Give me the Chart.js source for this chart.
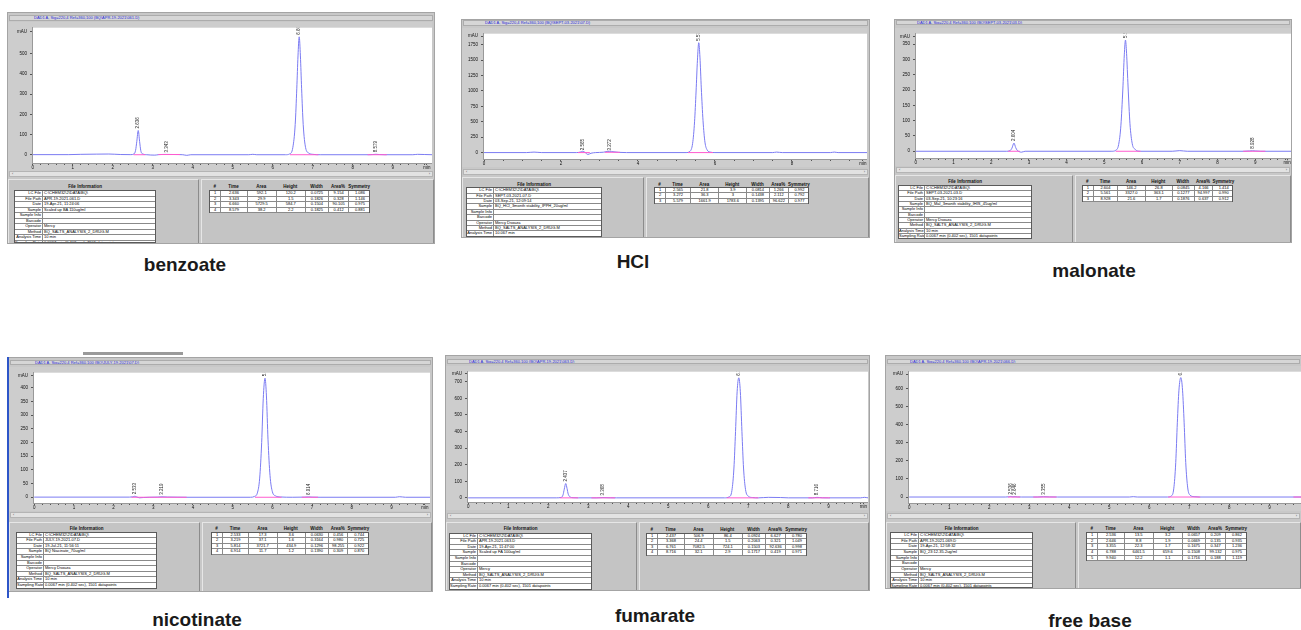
<!DOCTYPE html>
<html>
<head>
<meta charset="utf-8">
<script src="https://cdn.jsdelivr.net/npm/chart.js@4.4.1/dist/chart.umd.min.js"></script>
<style>
html,body{margin:0;padding:0;background:#fff;width:1301px;height:630px;overflow:hidden;font-family:"Liberation Sans",Arial,sans-serif}
div,canvas{position:absolute;box-sizing:border-box}
.frame{background:#c8c8c8;border:1px solid #a4a4a4}
.strip{background:#d6d6d6;border:1px solid #acacac;color:#2a2ad6;font-size:4px;line-height:4px;white-space:nowrap;overflow:hidden}
.scroll{background:#e2e2e2;border:1px solid #b4b4b4;font-size:4px;line-height:4px;color:#555}
.pane{background:#c4c4c4;border-top:1px solid #e6e6e6;border-left:1px solid #e6e6e6;border-right:1px solid #8c8c8c}
.tbl{background:#fff;border:1px solid #5a5a5a}
.row{left:0;right:0;border-bottom:1px solid #8a8a8a;font-size:4px;white-space:nowrap;overflow:hidden}
.cell{top:0;bottom:0;border-right:1px solid #8a8a8a;overflow:hidden;text-align:center}
.hdr{font-size:4.5px;font-weight:bold;white-space:nowrap;text-align:center;color:#111}
.name{font-size:19px;font-weight:bold;color:#1a1a1a;white-space:nowrap;transform:translate(-50%,-50%)}
</style>
</head>
<body>
<script>
// shared labels
const infoLabels = ['LC File', 'File Path', 'Date', 'Sample', 'Sample Info', 'Barcode', 'Operator', 'Method', 'Analysis Time', 'Sampling Rate'];
const peakHeaders = ['#', 'Time', 'Area', 'Height', 'Width', 'Area%', 'Symmetry'];

// benzoate
const benzoateTrace = [[0,0.5],[0.9,0.5],[1.2,2],[1.6,3],[1.9,3.5],[2.2,1],[2.45,0.5],[2.53,4],[2.57,22],[2.60,66],[2.636,120.2],[2.67,66],[2.70,20],[2.75,4],[2.85,0],[3.05,-2],[3.15,0.5],[3.343,1.5],[3.55,1],[3.75,0],[3.85,-3],[3.95,0],[5.4,0],[5.5,2],[5.6,0],[6.32,0],[6.42,4],[6.50,35],[6.56,150],[6.60,330],[6.63,490],[6.66,584.7],[6.69,490],[6.72,330],[6.76,150],[6.82,35],[6.90,8],[7.0,2],[7.2,0],[8.4,0],[8.5,1],[8.579,2.2],[8.66,1],[8.8,0],[9.5,0],[9.62,2],[9.8,1],[10,0]];
const benzoateBase = [[2.52,2.81,0],[3.14,3.68,1],[6.43,7.14,0],[8.37,8.85,0]];
const benzoateTime = [2.636, 3.343, 6.660, 8.579];
const benzoateArea = [592.1, 29.9, 5729.5, 38.2];
const benzoateHeight = [120.2, 1.5, 584.7, 2.2];
const benzoateWidth = [0.0725, 0.1826, 0.1504, 0.1825];
const benzoatePct = [9.154, 0.328, 90.105, 0.412];
const benzoateSym = [1.086, 1.146, 0.975, 0.881];
const benzoateInfo = ['C:\\CHEM32\\2\\DATA\\BQ\\', 'APR-19-2021-061.D', '19-Apr-21, 11:24:06', 'Scaled up BA 110ug/ml', '', '', 'Mercy', 'BQ_SALTS_ANALYSIS_2_DRUG.M', '10 min', '0.0067 min (0.402 sec), 1501 datapoints'];

// HCl
const hclTrace = [[0,0],[1.1,0],[1.3,8],[1.5,0],[2.4,0],[2.50,8],[2.565,22],[2.62,5],[2.70,-30],[2.78,-10],[2.9,0],[3.1,6],[3.2,18],[3.272,22],[3.35,14],[3.5,4],[3.7,0],[5.25,0],[5.35,20],[5.42,150],[5.47,500],[5.51,1000],[5.545,1500],[5.579,1783.6],[5.61,1550],[5.645,1050],[5.69,520],[5.74,170],[5.80,40],[5.88,8],[6.0,0],[7.5,0],[7.6,8],[7.75,0],[9.0,0],[9.1,8],[9.2,0],[9.95,0]];
const hclBase = [[2.44,2.75,0],[3.14,3.53,5],[5.30,5.95,0]];
const hclTime = [2.565, 3.272, 5.579];
const hclArea = [21.8, 36.3, 1661.9];
const hclHeight = [3.9, 3.0, 1783.6];
const hclWidth = [0.0814, 0.1438, 0.1395];
const hclPct = [1.266, 2.112, 96.622];
const hclSym = [0.992, 0.792, 0.977];
const hclInfo = ['C:\\CHEM32\\2\\DATA\\BQ\\', 'SEPT-03-2021-07.D', '03-Sep-21, 12:09:14', 'BQ_HCl_3month stability_IPPH_20ug/ml', '', '', 'Mercy Dsouza', 'BQ_SALTS_ANALYSIS_2_DRUG.M', '10.067 min', '0.0067 min (0.402 sec), 1501 datapoints'];

// malonate
const malonateTrace = [[0,0],[2.40,0],[2.50,2],[2.55,10],[2.604,26.8],[2.65,12],[2.69,3],[2.74,-1],[2.80,-3],[2.9,0],[5.2,0],[5.30,3],[5.38,22],[5.44,85],[5.49,200],[5.53,315],[5.561,363.1],[5.59,320],[5.63,210],[5.68,90],[5.74,25],[5.82,6],[5.95,0],[6.8,0],[7.0,2],[7.2,0],[8.7,0],[8.85,1],[8.928,1.7],[9.0,1],[9.15,0],[9.95,0]];
const malonateBase = [[2.45,2.76,0],[5.30,5.96,0],[8.68,9.27,0]];
const malonateTime = [2.604, 5.561, 8.928];
const malonateArea = [146.2, 3327.0, 21.6];
const malonateHeight = [26.8, 363.1, 1.7];
const malonateWidth = [0.0845, 0.1277, 0.1876];
const malonatePct = [4.166, 94.997, 0.637];
const malonateSym = [1.414, 0.99, 0.912];
const malonateInfo = ['C:\\CHEM32\\2\\DATA\\BQ\\', 'SEPT-03-2021-03.D', '03-Sep-21, 10:23:16', 'BQ_Mal_3month stability_IHIS_45ug/ml', '', '', 'Mercy Dsouza', 'BQ_SALTS_ANALYSIS_2_DRUG.M', '10 min', '0.0067 min (0.402 sec), 1501 datapoints'];

// nicotinate
const nicotinateTrace = [[0,0.5],[2.40,0.5],[2.48,1.5],[2.533,3.6],[2.58,1.5],[2.65,-2],[2.75,-1],[2.9,0],[3.1,0.5],[3.219,1.6],[3.35,0.8],[3.6,0.3],[3.85,0],[5.45,0],[5.55,3],[5.62,15],[5.68,70],[5.73,200],[5.77,360],[5.814,434.9],[5.85,370],[5.89,210],[5.94,80],[6.00,20],[6.08,5],[6.2,1],[6.5,0],[6.8,0.5],[6.914,1.2],[7.0,0.5],[7.2,0],[9.1,0],[9.2,2],[9.35,0],[9.97,0]];
const nicotinateBase = [[2.45,2.83,0],[2.83,3.84,0],[5.56,6.23,0],[6.74,7.15,0]];
const nicotinateTime = [2.533, 3.219, 5.814, 6.914];
const nicotinateArea = [17.3, 37.1, 3721.7, 11.7];
const nicotinateHeight = [3.6, 1.6, 434.9, 1.2];
const nicotinateWidth = [0.063, 0.3164, 0.1296, 0.139];
const nicotinatePct = [0.456, 0.98, 98.255, 0.309];
const nicotinateSym = [0.744, 0.725, 0.922, 0.87];
const nicotinateInfo = ['C:\\CHEM32\\2\\DATA\\BQ\\', 'JULY-19-2021-07.D', '19-Jul-21, 11:56:11', 'BQ Niacinate_70ug/ml', '', '', 'Mercy Dsouza', 'BQ_SALTS_ANALYSIS_2_DRUG.M', '10 min', '0.0067 min (0.402 sec), 1501 datapoints'];

// fumarate
const fumarateTrace = [[0,0],[2.20,0],[2.33,3],[2.37,18],[2.40,52],[2.437,86.4],[2.47,56],[2.50,22],[2.55,5],[2.62,1],[2.75,0],[3.2,0],[3.368,1.5],[3.55,0.5],[3.7,0],[6.40,0],[6.52,6],[6.59,45],[6.64,180],[6.68,400],[6.72,640],[6.761,724.1],[6.80,640],[6.84,400],[6.88,180],[6.93,50],[7.0,10],[7.1,2],[7.25,0],[7.5,3],[7.8,2],[8.0,0],[8.6,0],[8.716,2.9],[8.85,0.5],[9.0,0],[9.8,0],[9.9,3],[9.99,0]];
const fumarateBase = [[2.29,2.75,0],[3.08,3.67,0],[6.46,7.25,0],[8.5,9.04,0]];
const fumarateTime = [2.437, 3.368, 6.761, 8.716];
const fumarateArea = [506.9, 24.4, 7082.5, 32.1];
const fumarateHeight = [86.4, 1.5, 724.1, 2.9];
const fumarateWidth = [0.0924, 0.2063, 0.1503, 0.1717];
const fumaratePct = [6.627, 0.321, 92.636, 0.419];
const fumarateSym = [0.78, 1.049, 0.998, 0.971];
const fumarateInfo = ['C:\\CHEM32\\2\\DATA\\BQ\\', 'APR-19-2021-063.D', '19-Apr-21, 11:47:00', 'Scaled up FA 100ug/ml', '', '', 'Mercy', 'BQ_SALTS_ANALYSIS_2_DRUG.M', '10 min', '0.0067 min (0.402 sec), 1501 datapoints'];

// free base
const freeTrace = [[0,0],[2.40,0],[2.48,1],[2.536,3.2],[2.59,1],[2.646,1.9],[2.70,0.5],[2.8,0],[3.2,0],[3.355,1.7],[3.5,0.5],[3.7,0],[5.5,0],[5.6,2],[5.7,0],[6.45,0],[6.55,6],[6.61,45],[6.66,190],[6.70,410],[6.74,590],[6.788,659.6],[6.83,590],[6.87,410],[6.91,190],[6.96,50],[7.02,10],[7.12,2],[7.25,0],[9.79,0]];
const freeBase = [[2.47,2.77,0],[3.1,3.68,0],[6.47,7.27,0],[9.6,9.79,0]];
const freeTime = [2.536, 2.646, 3.355, 6.788, 9.940];
const freeArea = [13.5, 8.8, 22.3, 6461.5, 12.2];
const freeHeight = [3.2, 1.9, 1.7, 659.6, 1.1];
const freeWidth = [0.0657, 0.0669, 0.1675, 0.1508, 0.1716];
const freePct = [0.209, 0.135, 0.347, 99.132, 0.188];
const freeSym = [0.862, 0.935, 1.236, 0.975, 1.119];
const freeInfo = ['C:\\CHEM32\\2\\DATA\\BQ\\', 'APR-19-2021-069.D', '19-Apr-21, 12:58:32', 'BQ_23:12-35.2ug/ml', '', '', 'Mercy', 'BQ_SALTS_ANALYSIS_2_DRUG.M', '10 min', '0.0067 min (0.402 sec), 1501 datapoints'];

// screenshot layout (pixels) for each panel
const panels = [
  { name:'benzoate', file:'061.D', dir:'APR-19-2021', trace:benzoateTrace, base:benzoateBase, time:benzoateTime, area:benzoateArea, height:benzoateHeight, width:benzoateWidth, pct:benzoatePct, sym:benzoateSym, info:benzoateInfo,
    frame:[7,12,435,244], strip:[15,21], plot:[32,22,432,163], scroll:[171,177], bottomTop:179, split:199,
    fileT:[14,156,187,190,5.5], peakT:[209,370,187,190,5.5], label:[185,265],
    x:{min:-0.02,max:9.98,label:1,minor:0.2,unit:9.85}, y:{min:-41,max:630,step:100,unit:612} },
  { name:'HCl', file:'07.D', dir:'SEPT-03-2021', trace:hclTrace, base:hclBase, time:hclTime, area:hclArea, height:hclHeight, width:hclWidth, pct:hclPct, sym:hclSym, info:hclInfo,
    frame:[461,19,870,238], strip:[20,26], plot:[483,28,867,159], scroll:[169,175], bottomTop:177, split:644,
    fileT:[466,602,184.5,187.3,5.4], peakT:[654,809,184.7,187,5.4], label:[633,262],
    x:{min:-0.026,max:9.95,label:2,minor:0.5,unit:9.84}, y:{min:-104,max:1930,step:250,unit:1890} },
  { name:'malonate', file:'03.D', dir:'SEPT-03-2021', trace:malonateTrace, base:malonateBase, time:malonateTime, area:malonateArea, height:malonateHeight, width:malonateWidth, pct:malonatePct, sym:malonateSym, info:malonateInfo,
    frame:[894,19,1292,243], strip:[20,25], plot:[915,28,1291,158], scroll:[167,173], bottomTop:175, split:1073,
    fileT:[898,1032,181.7,185,5.33], peakT:[1082,1233,181.7,185,5.33], label:[1094,271],
    x:{min:-0.02,max:9.95,label:1,minor:0.2,unit:9.85}, y:{min:-22,max:384,step:50,unit:374} },
  { name:'nicotinate', file:'07.D', dir:'JULY-19-2021', trace:nicotinateTrace, base:nicotinateBase, time:nicotinateTime, area:nicotinateArea, height:nicotinateHeight, width:nicotinateWidth, pct:nicotinatePct, sym:nicotinateSym, info:nicotinateInfo,
    frame:[8,357,433,592], strip:[360,365], plot:[33,367,430,503], scroll:[512,518], bottomTop:522, split:200,
    fileT:[16,157,529.3,531.7,5.6], peakT:[211,369,529.3,531.7,5.6], label:[197,620],
    x:{min:-0.03,max:9.97,label:1,minor:0.2,unit:9.84}, y:{min:-21,max:455,step:50,unit:444} },
  { name:'fumarate', file:'063.D', dir:'APR-19-2021', trace:fumarateTrace, base:fumarateBase, time:fumarateTime, area:fumarateArea, height:fumarateHeight, width:fumarateWidth, pct:fumaratePct, sym:fumarateSym, info:fumarateInfo,
    frame:[445,355,870,591], strip:[359,364], plot:[467,366,868,502], scroll:[513,519], bottomTop:522, split:637,
    fileT:[449,592,529.3,532.7,5.6], peakT:[646,807,530,532.7,5.6], label:[655,616],
    x:{min:-0.03,max:9.99,label:1,minor:0.2,unit:9.875}, y:{min:-25,max:761,step:100,unit:748} },
  { name:'free base', file:'066.D', dir:'APR-19-2021', trace:freeTrace, base:freeBase, time:freeTime, area:freeArea, height:freeHeight, width:freeWidth, pct:freePct, sym:freeSym, info:freeInfo,
    frame:[885,355,1302,589], strip:[359,364], plot:[908,366,1301,503], scroll:[513,519], bottomTop:522, split:1076,
    fileT:[890,1033,529.3,532,5.67], peakT:[1086,1247,529.3,532,5.67], label:[1090,621],
    x:{min:-0.03,max:9.79,label:1,minor:0.2,unit:null}, y:{min:-33,max:692,step:100,unit:679} }
];

const colFrac = [0.071, 0.162, 0.182, 0.180, 0.145, 0.124, 0.136];

Chart.defaults.font.family = '"Liberation Sans", Arial, sans-serif';

function box(cls, l, t, w, h, parent){
  const d = document.createElement('div');
  d.className = cls;
  Object.assign(d.style, { left: l+'px', top: t+'px', width: w+'px', height: h+'px' });
  (parent||document.body).appendChild(d);
  return d;
}

const bgPlugin = {
  id: 'bg',
  beforeDraw(c){
    const { ctx, chartArea: a } = c;
    ctx.save();
    ctx.fillStyle = '#cdcdcd'; ctx.fillRect(0, 0, c.width, c.height);
    ctx.fillStyle = '#fff'; ctx.fillRect(a.left, a.top, a.right-a.left, a.bottom-a.top);
    ctx.restore();
  }
};

const peakLabels = {
  id: 'peakLabels',
  afterDatasetsDraw(chart, args, opts){
    const { ctx, chartArea: a, scales: { x, y } } = chart;
    ctx.save();
    ctx.beginPath(); ctx.rect(a.left, a.top, a.right-a.left, a.bottom-a.top); ctx.clip();
    ctx.fillStyle = '#202020';
    ctx.font = '4.5px "Liberation Sans"';
    ctx.textAlign = 'left'; ctx.textBaseline = 'middle';
    opts.time.forEach((t, i) => {
      const px = x.getPixelForValue(t), py = y.getPixelForValue(opts.height[i]);
      ctx.save(); ctx.translate(px, py-2); ctx.rotate(-Math.PI/2);
      ctx.fillText(t.toFixed(3), 0, 0);
      ctx.restore();
    });
    ctx.restore();
  }
};

function drawPanel(P){
  const [fl, ft, fr, fb] = P.frame;
  const [pl, pt, pr, pb] = P.plot;
  box('frame', fl, ft, fr-fl, fb-ft);

  const st = box('strip', fl+2, P.strip[0], fr-fl-4, P.strip[1]-P.strip[0]);
  st.style.paddingLeft = (pl-fl-1)+'px';
  st.textContent = 'DAD1 A, Sig=220,4 Ref=360,100 (BQ\\' + P.dir + '\\' + P.file + ')';

  // chromatogram
  const cw = pr-(fl+1), ch = pb+8-pt;
  const cv = document.createElement('canvas');
  cv.width = cw; cv.height = ch;
  Object.assign(cv.style, { left:(fl+1)+'px', top:pt+'px', width:cw+'px', height:ch+'px' });
  document.body.appendChild(cv);

  const baseData = [];
  P.base.forEach(([a, b, v]) => baseData.push({x:a, y:v}, {x:b, y:v}, {x:b, y:null}));

  new Chart(cv, {
    type: 'line',
    data: { datasets: [
      { data: baseData, borderColor:'#ff5ccf', borderWidth:1, pointRadius:0, spanGaps:false, order:0 },
      { data: P.trace.map(([x, y]) => ({x, y})), borderColor:'#7b7bf2', borderWidth:1, pointRadius:0, cubicInterpolationMode:'monotone', order:1 }
    ]},
    options: {
      responsive:false, animation:false, devicePixelRatio:1,
      layout:{ padding:0 },
      plugins:{ legend:{display:false}, tooltip:{enabled:false}, peakLabels:{ time:P.time, height:P.height } },
      scales:{
        x:{ type:'linear', min:P.x.min, max:P.x.max,
          afterBuildTicks: ax => {
            const t = [];
            for (let i = 0; i*P.x.minor <= P.x.max+1e-9; i++) t.push({ value: +(i*P.x.minor).toFixed(3) });
            if (P.x.unit !== null) t.push({ value: P.x.unit });
            ax.ticks = t;
          },
          afterFit: ax => { ax.height = 8; },
          ticks:{ autoSkip:false, maxRotation:0, padding:0, color:'#111', font:{size:4.5},
            callback: v => {
              if (P.x.unit !== null && Math.abs(v-P.x.unit) < 1e-6) return 'min';
              const r = Math.round(v);
              return (Math.abs(v-r) < 1e-6 && r % P.x.label === 0) ? String(r) : '';
            } },
          grid:{ drawOnChartArea:false, tickLength:2, color:'#555' },
          border:{ color:'#999' } },
        y:{ type:'linear', min:P.y.min, max:P.y.max,
          afterBuildTicks: ax => {
            const t = [];
            for (let v = 0; v <= P.y.max && v < P.y.unit - P.y.step*0.3; v += P.y.step) t.push({ value:v });
            t.push({ value:P.y.unit });
            ax.ticks = t;
          },
          afterFit: ax => { ax.width = pl-fl-1; },
          ticks:{ autoSkip:false, padding:3, color:'#111', font:{size:4.5},
            callback: v => (Math.abs(v-P.y.unit) < 1e-6 ? 'mAU' : String(v)) },
          grid:{ drawOnChartArea:false, tickLength:2, color:'#555' },
          border:{ color:'#999' } }
      }
    },
    plugins:[bgPlugin, peakLabels]
  });

  // scrollbar
  const sc = box('scroll', fl+2, P.scroll[0], fr-fl-4, P.scroll[1]-P.scroll[0]);
  sc.innerHTML = '<div style="left:2px;top:0">&#8249;</div><div style="right:2px;top:0">&#8250;</div>';

  // bottom panes
  box('pane', fl+1, P.bottomTop, P.split-fl-1, fb-P.bottomTop-1);
  box('pane', P.split+2, P.bottomTop, fr-P.split-3, fb-P.bottomTop-1);

  // file information table
  const [fx, fr2, fh, ftop, frh] = P.fileT;
  const fH = box('hdr', fx, fh-3, fr2-fx, 5);
  fH.textContent = 'File Information'; fH.style.lineHeight = '5px';
  const ft1 = box('tbl', fx, ftop, fr2-fx, Math.min(frh*infoLabels.length+1, fb-ftop-1));
  ft1.style.overflow = 'hidden';
  const lw = Math.round((fr2-fx)*0.195);
  infoLabels.forEach((lab, i) => {
    const r = box('row', 0, i*frh, fr2-fx-2, frh, ft1);
    r.style.lineHeight = (frh-1)+'px';
    const c1 = box('cell', 0, 0, lw, frh, r); c1.style.textAlign = 'right'; c1.style.paddingRight = '1px'; c1.textContent = lab;
    const c2 = box('cell', lw, 0, fr2-fx-lw-2, frh, r); c2.style.textAlign = 'left'; c2.style.paddingLeft = '1px'; c2.style.borderRight = 'none'; c2.textContent = P.info[i];
  });

  // peak table
  const [qx, qr, qh, qtop, qrh] = P.peakT;
  const tw = qr-qx;
  let cx = 0;
  const cols = colFrac.map(f => { const c = [cx, f*tw]; cx += f*tw; return c; });
  cols.forEach(([x0, w], j) => {
    const h = box('hdr', qx+x0, qh-3, w, 5, null);
    h.style.lineHeight = '5px'; h.textContent = peakHeaders[j];
  });
  const pt1 = box('tbl', qx, qtop, tw, qrh*P.time.length+1);
  P.time.forEach((t, i) => {
    const r = box('row', 0, i*qrh, tw-2, qrh, pt1);
    r.style.lineHeight = (qrh-1)+'px';
    const vals = [String(i+1), t.toFixed(3), P.area[i].toFixed(1), String(P.height[i]), P.width[i].toFixed(4), P.pct[i].toFixed(3), P.sym[i].toFixed(3)];
    cols.forEach(([x0, w], j) => {
      const c = box('cell', x0, 0, w, qrh, r);
      if (j === cols.length-1) c.style.borderRight = 'none';
      c.textContent = vals[j];
    });
  });

  const lb = box('name', P.label[0], P.label[1], 'auto', 'auto');
  lb.style.width = 'auto'; lb.style.height = 'auto';
  lb.textContent = P.name;
}

panels.forEach(drawPanel);

// window edge details of the nicotinate screenshot
box('', 83, 352, 100, 3).style.background = '#9a9a9a';
box('', 7, 357, 2, 241).style.background = '#2d55c8';
</script>
</body>
</html>
